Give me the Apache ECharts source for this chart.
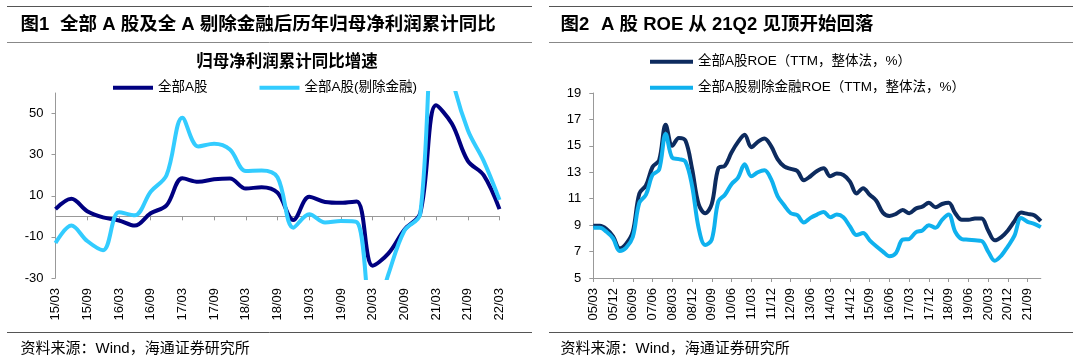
<!DOCTYPE html>
<html><head><meta charset="utf-8">
<script src="https://cdn.jsdelivr.net/npm/echarts@6/dist/echarts.min.js"></script>
<style>html,body{margin:0;padding:0;background:#fff;} #c{width:1080px;height:363px;}</style>
</head><body><div id="c"></div>
<script>
// ---------- data: left chart (quarterly cumulative YoY, %) ----------
const leftCategories = ['15/03','15/06','15/09','15/12','16/03','16/06','16/09','16/12','17/03','17/06','17/09','17/12','18/03','18/06','18/09','18/12','19/03','19/06','19/09','19/12','20/03','20/06','20/09','20/12','21/03','21/06','21/09','21/12','22/03'];
const leftDark  = [3.5, 8.5, 2.5, -0.5, -2, -4.5, 1.5, 5.3, 18.5, 16.8, 18, 18.4, 13.5, 14.2, 11.5, -1.8, 9.5, 7, 6.6, 7.2, -24, -18, -6.5, 1.5, 54, 45, 27, 20, 3.5];
const leftLight = [-13, -4.5, -12, -16.5, 2, 0.5, 12, 20, 48, 34, 35.3, 32.5, 22, 22.3, 19, -5.5, 1, -3, -2.3, -2.8, -52, -28, -7, 1, 115, 68, 42, 27, 8];
const leftYTicks = [-30, -10, 10, 30, 50];

// ---------- data: right chart (ROE TTM, %) ----------
const rightCategories = ['05/03','05/06','05/09','05/12','06/03','06/06','06/09','06/12','07/03','07/06','07/09','07/12','08/03','08/06','08/09','08/12','09/03','09/06','09/09','09/12','10/03','10/06','10/09','10/12','11/03','11/06','11/09','11/12','12/03','12/06','12/09','12/12','13/03','13/06','13/09','13/12','14/03','14/06','14/09','14/12','15/03','15/06','15/09','15/12','16/03','16/06','16/09','16/12','17/03','17/06','17/09','17/12','18/03','18/06','18/09','18/12','19/03','19/06','19/09','19/12','20/03','20/06','20/09','20/12','21/03','21/06','21/09','21/12','22/03'];
const rightDark  = [8.95, 8.95, 8.7, 8.15, 7.25, 7.6, 8.5, 11.4, 12.0, 13.4, 13.9, 16.6, 15.0, 15.6, 15.4, 13.3, 10.6, 9.9, 10.6, 13.3, 13.5, 14.5, 15.3, 15.85, 14.9, 15.3, 15.55, 15.0, 14.0, 13.45, 13.25, 13.1, 12.4, 12.7, 13.1, 13.3, 12.7, 12.9, 12.8, 12.3, 11.4, 11.8, 11.3, 10.85, 9.95, 9.7, 9.85, 10.15, 9.9, 10.25, 10.4, 10.7, 10.35, 10.6, 10.7, 9.9, 9.4, 9.4, 9.5, 9.5, 8.6, 7.85, 8.1, 8.6, 9.3, 9.95, 9.85, 9.75, 9.3];
const rightLight = [8.8, 8.8, 8.5, 8.0, 7.05, 7.3, 8.1, 10.7, 11.3, 12.8, 13.2, 15.9, 14.1, 14.0, 13.8, 12.0, 8.8, 7.5, 7.9, 10.8, 11.3, 12.1, 12.6, 13.6, 12.7, 13.0, 13.15, 12.5, 11.2, 10.5, 9.9, 9.75, 9.2, 9.55, 9.8, 10.0, 9.6, 9.8, 9.6, 8.9, 8.25, 8.4, 7.85, 7.4, 7.0, 6.65, 6.9, 7.9, 7.95, 8.45, 8.6, 9.0, 8.8, 9.4, 9.8, 8.5, 7.95, 7.9, 7.85, 7.8, 7.0, 6.3, 6.7, 7.4, 8.2, 9.55, 9.25, 9.1, 8.85];
const rightYTicks = [5, 7, 9, 11, 13, 15, 17, 19];

// ---------- texts ----------
const title1Num = '图1';
const title1 = '全部 A 股及全 A 剔除金融后历年归母净利润累计同比';
const title2Num = '图2';
const title2 = 'A 股 ROE 从 21Q2 见顶开始回落';
const subTitle1 = '归母净利润累计同比增速';
const sourceText = '资料来源：Wind，海通证券研究所';
const leftNames = ['全部A股', '全部A股(剔除金融)'];
const rightNames = ['全部A股ROE（TTM，整体法，%）', '全部A股剔除金融ROE（TTM，整体法，%）'];

const MIX = '"Liberation Sans", "Noto Sans CJK SC", sans-serif';
const LAT = '"Liberation Sans", Arial, sans-serif';
const AXC = '#999999';
const C_LD = '#000080', C_LL = '#33CCFF', C_RD = '#0D2B5E', C_RL = '#0FB1EE';

const chart = echarts.init(document.getElementById('c'), null, {renderer: 'canvas'});

function rule(x1, x2, y, color) {
  return {type: 'line', shape: {x1: x1, y1: y, x2: x2, y2: y}, style: {stroke: color, lineWidth: 1}, silent: true};
}
function txt(x, y, t, font, align) {
  return {type: 'text', x: x, y: y, style: {text: t, font: font, fill: '#000', align: align || 'left', verticalAlign: 'middle'}, silent: true};
}

const valueAxisBase = {
  type: 'value',
  splitLine: {show: false},
  axisLine: {show: true, lineStyle: {color: AXC, width: 1}},
  axisTick: {show: true, length: 4, lineStyle: {color: AXC}},
  axisLabel: {color: '#000', fontSize: 13, fontFamily: LAT, margin: 12}
};
const legendText = {fontSize: 13.5, fontFamily: MIX, color: '#000'};

chart.setOption({
  animation: false,
  backgroundColor: '#fff',
  grid: [
    {left: 55.5, top: 93, width: 444, height: 185},
    {left: 593.3, top: 93, width: 447.5, height: 185}
  ],
  legend: [
    {data: leftNames, left: 113, top: 81, padding: 0, itemWidth: 40, itemHeight: 4, itemGap: 52, icon: 'rect', textStyle: legendText},
    {data: [rightNames[0]], left: 650, top: 55, padding: 0, itemWidth: 43, itemHeight: 4, icon: 'rect', textStyle: legendText},
    {data: [rightNames[1]], left: 650, top: 81, padding: 0, itemWidth: 43, itemHeight: 4, icon: 'rect', textStyle: legendText}
  ],
  xAxis: [
    {type: 'category', gridIndex: 0, data: leftCategories, boundaryGap: false,
     axisLine: {onZero: true, lineStyle: {color: AXC, width: 1}},
     axisTick: {show: true, interval: 1, length: 4, lineStyle: {color: AXC}},
     axisLabel: {show: false}},
    {type: 'category', gridIndex: 0, data: leftCategories, boundaryGap: false, position: 'bottom',
     axisLine: {show: false, onZero: false}, axisTick: {show: false},
     axisLabel: {interval: 1, rotate: 90, fontSize: 13, fontFamily: LAT, color: '#000', margin: 10}},
    {type: 'category', gridIndex: 1, data: rightCategories, boundaryGap: false,
     axisLine: {onZero: false, lineStyle: {color: AXC, width: 1}},
     axisTick: {show: true, interval: 2, length: 4, lineStyle: {color: AXC}},
     axisLabel: {interval: 2, rotate: 90, fontSize: 13, fontFamily: LAT, color: '#000', margin: 10}}
  ],
  yAxis: [
    echarts.util.merge({gridIndex: 0, min: -30, max: 60,
      axisTick: {customValues: leftYTicks}, axisLabel: {customValues: leftYTicks}}, valueAxisBase),
    echarts.util.merge({gridIndex: 1, min: 5, max: 19,
      axisTick: {customValues: rightYTicks}, axisLabel: {customValues: rightYTicks}}, valueAxisBase)
  ],
  series: [
    {type: 'line', name: leftNames[0], xAxisIndex: 0, yAxisIndex: 0, data: leftDark, smooth: 0.35, symbol: 'none',
     lineStyle: {width: 4, color: C_LD}, itemStyle: {color: C_LD}},
    {type: 'line', name: leftNames[1], xAxisIndex: 0, yAxisIndex: 0, data: leftLight, smooth: 0.35, symbol: 'none',
     lineStyle: {width: 4, color: C_LL}, itemStyle: {color: C_LL}},
    {type: 'line', name: rightNames[0], xAxisIndex: 2, yAxisIndex: 1, data: rightDark, smooth: 0.35, symbol: 'none',
     lineStyle: {width: 4, color: C_RD}, itemStyle: {color: C_RD}},
    {type: 'line', name: rightNames[1], xAxisIndex: 2, yAxisIndex: 1, data: rightLight, smooth: 0.35, symbol: 'none',
     lineStyle: {width: 4, color: C_RL}, itemStyle: {color: C_RL}}
  ],
  graphic: [
    rule(7, 532, 6.5, '#555'), rule(7, 532, 42.5, '#888'), rule(7, 532, 332.5, '#555'),
    rule(549, 1073, 6.5, '#555'), rule(549, 1073, 42.5, '#888'), rule(549, 1073, 332.5, '#555'),
    txt(20.5, 25, title1Num, 'bold 18.5px ' + MIX),
    txt(60, 25, title1, 'bold 18.5px ' + MIX),
    txt(560.5, 25, title2Num, 'bold 18.5px ' + MIX),
    txt(601, 25, title2, 'bold 18.5px ' + MIX),
    txt(287, 62, subTitle1, 'bold 16.5px ' + MIX, 'center'),
    txt(20.5, 349, sourceText, '15px ' + MIX),
    txt(560.5, 349, sourceText, '15px ' + MIX)
  ]
});
</script></body></html>
